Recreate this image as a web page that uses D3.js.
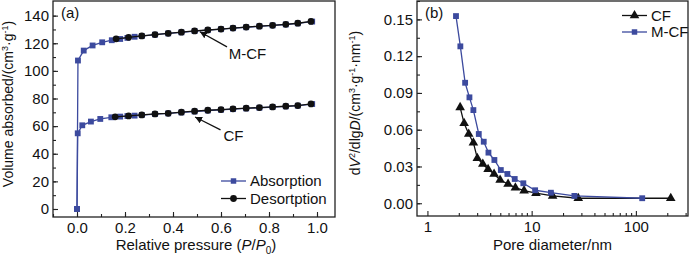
<!DOCTYPE html>
<html>
<head>
<meta charset="utf-8">
<script src="https://cdn.jsdelivr.net/npm/d3@7"></script>
<style>
  body { margin: 0; background: #fff; }
  svg { font-family: "Liberation Sans", Arial, sans-serif; }
  .frame { fill: none; stroke: #222; stroke-width: 1.3; }
  .tick-label { font-size: 15px; fill: #111; }
</style>
</head>
<body>
<script>
var width = 700,
    height = 256;

var blue = "#3c4a9e";

// panel (a): isotherms
var pAdsMCF  = [0, 0.004, 0.028, 0.065, 0.105, 0.145, 0.18, 0.21, 0.24, 0.27, 0.325, 0.38, 0.435, 0.49, 0.545, 0.6, 0.65, 0.705, 0.76, 0.815, 0.87, 0.92, 0.98];
var vAdsMCF  = [0, 107.5, 114.7, 118.4, 120.7, 122.2, 123.1, 123.9, 124.7, 125.2, 126.2, 127.1, 127.9, 128.8, 129.5, 130.2, 130.9, 131.6, 132.3, 132.9, 133.6, 134.4, 135.7];
var pDesMCF  = [0.163, 0.215, 0.27, 0.325, 0.38, 0.435, 0.49, 0.545, 0.6, 0.65, 0.705, 0.76, 0.815, 0.87, 0.92, 0.975];
var vDesMCF  = [123.2, 124.3, 125.3, 126.3, 127.2, 128.0, 128.9, 129.6, 130.3, 131.0, 131.7, 132.4, 133.0, 133.7, 134.5, 135.8];

var pAdsCF   = [0, 0.003, 0.022, 0.058, 0.097, 0.143, 0.18, 0.21, 0.24, 0.27, 0.325, 0.38, 0.435, 0.49, 0.545, 0.6, 0.65, 0.705, 0.76, 0.815, 0.87, 0.92, 0.98];
var vAdsCF   = [0, 54.8, 60.6, 63.3, 65.2, 66.4, 66.9, 67.3, 67.6, 68.0, 68.7, 69.2, 69.9, 70.6, 71.3, 71.8, 72.3, 72.8, 73.3, 73.8, 74.3, 74.8, 76.0];
var pDesCF   = [0.159, 0.215, 0.27, 0.325, 0.38, 0.435, 0.49, 0.545, 0.6, 0.65, 0.705, 0.76, 0.815, 0.87, 0.92, 0.975];
var vDesCF   = [66.7, 67.4, 68.1, 68.8, 69.3, 70.1, 70.8, 71.5, 72.0, 72.5, 73.0, 73.4, 73.9, 74.4, 74.9, 76.1];

var xTicksA = [0, 0.2, 0.4, 0.6, 0.8, 1.0];
var yTicksA = [0, 20, 40, 60, 80, 100, 120, 140];

// panel (b): pore size distribution
var dCF   = [2.06, 2.25, 2.49, 2.76, 3.01, 3.40, 3.82, 4.36, 4.98, 5.94, 6.98, 8.46, 11.0, 15.9, 28.0, 216];
var pdCF  = [0.0782, 0.0652, 0.0565, 0.0494, 0.0367, 0.0320, 0.0277, 0.0239, 0.0190, 0.0157, 0.0127, 0.0103, 0.0082, 0.0060, 0.0041, 0.0041];
var dMCF  = [1.88, 2.07, 2.30, 2.53, 2.76, 3.11, 3.47, 3.85, 4.39, 5.06, 5.85, 6.88, 8.32, 10.8, 15.3, 25.7, 115];
var pdMCF = [0.1527, 0.128, 0.0983, 0.0864, 0.0760, 0.0565, 0.0502, 0.0413, 0.0353, 0.0271, 0.0239, 0.0198, 0.0163, 0.0106, 0.0086, 0.0060, 0.0041];

var xTicksB = [1, 10, 100];
var yTicksB = [0, 0.03, 0.06, 0.09, 0.12, 0.15];

var svg = d3.select("body").append("svg")
    .attr("width", width)
    .attr("height", height);

svg.append("defs").append("marker")
    .attr("id", "arr")
    .attr("viewBox", "0 0 10 10")
    .attr("refX", 10).attr("refY", 5)
    .attr("markerWidth", 7).attr("markerHeight", 7)
    .attr("markerUnits", "userSpaceOnUse")
    .attr("orient", "auto")
  .append("path")
    .attr("d", "M0,0 L10,5 L0,10 z")
    .attr("fill", "#111");

// ---------- panel (a) ----------
var xa = d3.scaleLinear().domain([-0.1, 1.075]).range([53, 335]);
var ya = d3.scaleLinear().domain([-5.8, 150.6]).range([217, 1]);

function drawAxes(g, x, y, xt, yt, xMinor, yMinor, xfmt, yfmt) {
  var r = x.range(), rr = y.range();
  // inward ticks, minor first
  g.append("g")
    .attr("transform", "translate(0," + rr[0] + ")")
    .call(d3.axisBottom(x).tickValues(xMinor).tickSize(-3).tickFormat(""))
    .call(function(s){ s.select(".domain").remove(); });
  var xg = g.append("g")
    .attr("transform", "translate(0," + rr[0] + ")")
    .call(d3.axisBottom(x).tickValues(xt).tickSize(-5).tickPadding(5).tickFormat(xfmt));
  xg.select(".domain").remove();
  g.append("g")
    .attr("transform", "translate(" + r[0] + ",0)")
    .call(d3.axisLeft(y).tickValues(yMinor).tickSize(-3).tickFormat(""))
    .call(function(s){ s.select(".domain").remove(); });
  var yg = g.append("g")
    .attr("transform", "translate(" + r[0] + ",0)")
    .call(d3.axisLeft(y).tickValues(yt).tickSize(-5).tickPadding(4).tickFormat(yfmt));
  yg.select(".domain").remove();
  g.selectAll(".tick line").attr("stroke", "#222").attr("stroke-width", 1.1);
  g.selectAll(".tick text").attr("class", "tick-label").attr("font-family", null).attr("font-size", null);
  g.append("rect").attr("class", "frame")
    .attr("x", r[0]).attr("y", rr[1])
    .attr("width", r[1] - r[0]).attr("height", rr[0] - rr[1]);
}

var ga = svg.append("g");
drawAxes(ga, xa, ya, xTicksA, yTicksA,
  d3.range(-0.1, 1.05, 0.1).map(function(v){ return +v.toFixed(2); }),
  d3.range(-0, 150, 10),
  d3.format(".1f"), d3.format("d"));

function series(g, xs, ys, x, y, color, shape) {
  var pts = xs.map(function(v, i){ return [x(v), y(ys[i])]; });
  g.append("path")
    .attr("d", d3.line()(pts))
    .attr("fill", "none").attr("stroke", color).attr("stroke-width", 1.3);
  g.selectAll(null).data(pts).enter().append("path")
    .attr("transform", function(d){ return "translate(" + d[0] + "," + d[1] + ")"; })
    .attr("d", d3.symbol().type(shape).size(shape === d3.symbolCircle ? 36 : (shape === d3.symbolTriangle ? 40 : 34)))
    .attr("fill", color);
}

series(ga, pAdsMCF, vAdsMCF, xa, ya, blue, d3.symbolSquare);
series(ga, pAdsCF, vAdsCF, xa, ya, blue, d3.symbolSquare);
series(ga, pDesMCF, vDesMCF, xa, ya, "#111", d3.symbolCircle);
series(ga, pDesCF, vDesCF, xa, ya, "#111", d3.symbolCircle);

// annotations
ga.append("line")
  .attr("x1", xa(0.625)).attr("y1", ya(117.4))
  .attr("x2", xa(0.512)).attr("y2", ya(128.3))
  .attr("stroke", "#111").attr("stroke-width", 1.2).attr("marker-end", "url(#arr)");
ga.append("text").attr("x", xa(0.632)).attr("y", ya(108.5))
  .attr("font-size", 15).attr("fill", "#111").text("M-CF");
ga.append("line")
  .attr("x1", xa(0.598)).attr("y1", ya(57.3))
  .attr("x2", xa(0.492)).attr("y2", ya(66.6))
  .attr("stroke", "#111").attr("stroke-width", 1.2).attr("marker-end", "url(#arr)");
ga.append("text").attr("x", xa(0.61)).attr("y", ya(49.5))
  .attr("font-size", 15).attr("fill", "#111").text("CF");

ga.append("text").attr("x", 61).attr("y", 18).attr("font-size", 15).attr("fill", "#111").text("(a)");

// legend rows
function legendRow(g, x, y, color, shape, label) {
  g.append("line").attr("x1", x).attr("x2", x + 25).attr("y1", y).attr("y2", y)
    .attr("stroke", color).attr("stroke-width", 1.3);
  g.append("path").attr("transform", "translate(" + (x + 12.5) + "," + y + ")")
    .attr("d", d3.symbol().type(shape).size(shape === d3.symbolCircle ? 36 : (shape === d3.symbolTriangle ? 40 : 30)))
    .attr("fill", color);
  g.append("text").attr("x", x + 29).attr("y", y).attr("dy", "0.36em")
    .attr("font-size", 15).attr("fill", "#111").text(label);
}
legendRow(ga, 221, 181, blue, d3.symbolSquare, "Absorption");
legendRow(ga, 221, 198.5, "#111", d3.symbolCircle, "Desortption");

// axis titles (a)
var xta = ga.append("text").attr("x", (53 + 335) / 2 + 2).attr("y", 250)
  .attr("text-anchor", "middle").attr("font-size", 15).attr("fill", "#111");
xta.append("tspan").text("Relative pressure (");
xta.append("tspan").attr("font-style", "italic").text("P");
xta.append("tspan").text("/");
xta.append("tspan").attr("font-style", "italic").text("P");
xta.append("tspan").attr("font-size", 10).attr("dy", 3.5).text("0");
xta.append("tspan").attr("dy", -3.5).text(")");

var yta = ga.append("text").attr("transform", "translate(13,104) rotate(-90)")
  .attr("text-anchor", "middle").attr("font-size", 14).attr("fill", "#111");
yta.append("tspan").text("Volume absorbed/(cm");
yta.append("tspan").attr("font-size", 9).attr("dy", -5).text("3");
yta.append("tspan").attr("dy", 5).text("\u00b7g");
yta.append("tspan").attr("font-size", 9).attr("dy", -5).text("-1");
yta.append("tspan").attr("dy", 5).text(")");

// ---------- panel (b) ----------
var xb = d3.scaleLog().domain([Math.pow(10, -0.1), Math.pow(10, 2.5)]).range([417, 688]);
var yb = d3.scaleLinear().domain([-0.0104, 0.165]).range([216, 1]);

var minorLog = [];
[1, 10, 100].forEach(function(dec){
  for (var k = 2; k <= 9; k++) { var v = dec * k; if (v < 316) minorLog.push(v); }
});

var gb = svg.append("g");
drawAxes(gb, xb, yb, xTicksB, yTicksB, minorLog,
  d3.range(-0.0, 0.165, 0.015).map(function(v){ return +v.toFixed(3); }),
  d3.format("d"), d3.format(".2f"));

series(gb, dCF, pdCF, xb, yb, "#111", d3.symbolTriangle);
series(gb, dMCF, pdMCF, xb, yb, blue, d3.symbolSquare);

gb.append("text").attr("x", 425).attr("y", 18).attr("font-size", 15).attr("fill", "#111").text("(b)");

legendRow(gb, 622, 15.5, "#111", d3.symbolTriangle, "CF");
legendRow(gb, 622, 32, blue, d3.symbolSquare, "M-CF");

gb.append("text").attr("x", (417 + 688) / 2).attr("y", 250)
  .attr("text-anchor", "middle").attr("font-size", 15).attr("fill", "#111")
  .text("Pore diameter/nm");

var ytb = gb.append("text").attr("transform", "translate(360,103) rotate(-90)")
  .attr("text-anchor", "middle").attr("font-size", 14).attr("fill", "#111");
ytb.append("tspan").text("d");
ytb.append("tspan").attr("font-style", "italic").text("V");
ytb.append("tspan").attr("font-size", 9).attr("dy", -5).text("2");
ytb.append("tspan").attr("dy", 5).text("/dlg");
ytb.append("tspan").attr("font-style", "italic").text("D");
ytb.append("tspan").text("/(cm");
ytb.append("tspan").attr("font-size", 9).attr("dy", -5).text("3");
ytb.append("tspan").attr("dy", 5).text("\u00b7g");
ytb.append("tspan").attr("font-size", 9).attr("dy", -5).text("-1");
ytb.append("tspan").attr("dy", 5).text("\u00b7nm");
ytb.append("tspan").attr("font-size", 9).attr("dy", -5).text("-1");
ytb.append("tspan").attr("dy", 5).text(")");
</script>
</body>
</html>
